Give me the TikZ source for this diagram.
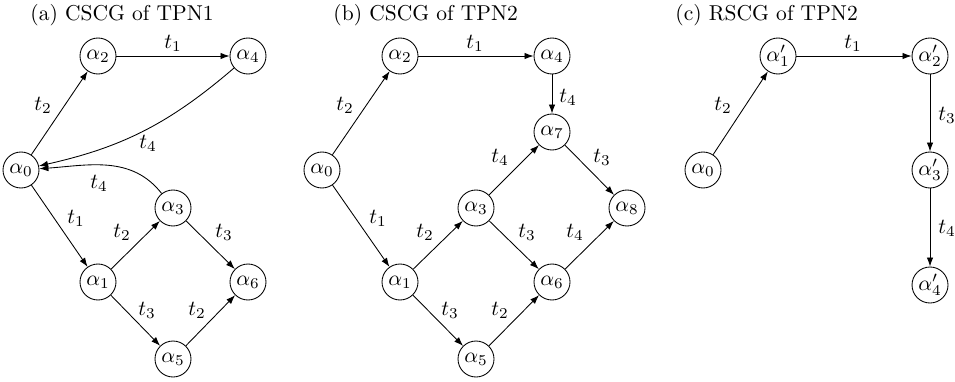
\documentclass[tikz,border=0pt]{standalone}
\usetikzlibrary{arrows.meta}
\begin{document}
\begin{tikzpicture}[x=0.01634cm,y=-0.01634cm,
  st/.style={circle,draw,minimum size=36*0.01634cm,inner sep=0pt},
  ar/.style={-{Latex[length=4.2pt,width=3pt]}},
  lb/.style={inner sep=0pt}]
\useasboundingbox (0,0) rectangle (955,381);
% titles
\node[anchor=west,lb] (ta) at (30,15) {(a) CSCG of TPN1};
\node[anchor=west,lb] (tb) at (333,15) {(b) CSCG of TPN2};
\node[anchor=west,lb] (tc) at (675,15) {(c) RSCG of TPN2};
% panel a
\node[st] (a2) at (98,56) {$\alpha_2$};
\node[st] (a4) at (248,56) {$\alpha_4$};
\node[st] (a0) at (21,170) {$\alpha_0$};
\node[st] (a3) at (173,208) {$\alpha_3$};
\node[st] (a1) at (98,282) {$\alpha_1$};
\node[st] (a6) at (248,282) {$\alpha_6$};
\node[st] (a5) at (173,359) {$\alpha_5$};
\draw[ar] (a2) -- (a4);
\draw[ar] (a0) -- (a2);
\draw[ar] (a4) to[bend left=14] (a0);
\draw[ar] (a3) to[out=128,in=4] (a0);
\draw[ar] (a0) -- (a1);
\draw[ar] (a1) -- (a3);
\draw[ar] (a3) -- (a6);
\draw[ar] (a1) -- (a5);
\draw[ar] (a5) -- (a6);
\node[lb] (la1) at (173,43) {$t_1$};
\node[lb] (la2) at (43,105) {$t_2$};
\node[lb] (la3) at (148,143) {$t_4$};
\node[lb] (la4) at (99,183) {$t_4$};
\node[lb] (la5) at (76,218) {$t_1$};
\node[lb] (la6) at (122,232) {$t_2$};
\node[lb] (la7) at (224,232) {$t_3$};
\node[lb] (la8) at (147,310) {$t_3$};
\node[lb] (la9) at (197,310) {$t_2$};
% panel b
\node[st] (b2) at (400,56) {$\alpha_2$};
\node[st] (b4) at (552,56) {$\alpha_4$};
\node[st] (b7) at (552,132) {$\alpha_7$};
\node[st] (b0) at (322,170) {$\alpha_0$};
\node[st] (b3) at (476,208) {$\alpha_3$};
\node[st] (b8) at (627,208) {$\alpha_8$};
\node[st] (b1) at (400,282) {$\alpha_1$};
\node[st] (b6) at (552,282) {$\alpha_6$};
\node[st] (b5) at (476,359) {$\alpha_5$};
\draw[ar] (b2) -- (b4);
\draw[ar] (b0) -- (b2);
\draw[ar] (b4) -- (b7);
\draw[ar] (b3) -- (b7);
\draw[ar] (b7) -- (b8);
\draw[ar] (b0) -- (b1);
\draw[ar] (b1) -- (b3);
\draw[ar] (b3) -- (b6);
\draw[ar] (b6) -- (b8);
\draw[ar] (b1) -- (b5);
\draw[ar] (b5) -- (b6);
\node[lb] (lb1) at (475,43) {$t_1$};
\node[lb] (lb2) at (345,105) {$t_2$};
\node[lb] (lb3) at (568,97) {$t_4$};
\node[lb] (lb4) at (500,157) {$t_4$};
\node[lb] (lb5) at (602,157) {$t_3$};
\node[lb] (lb6) at (378,218) {$t_1$};
\node[lb] (lb7) at (425,232) {$t_2$};
\node[lb] (lb8) at (527,232) {$t_3$};
\node[lb] (lb9) at (575,232) {$t_4$};
\node[lb] (lb10) at (450,310) {$t_3$};
\node[lb] (lb11) at (500,310) {$t_2$};
% panel c
\node[st] (c1) at (778,56) {$\alpha'_1$};
\node[st] (c2) at (930,56) {$\alpha'_2$};
\node[st] (c0) at (703,170) {$\alpha_0$};
\node[st] (c3) at (930,170) {$\alpha'_3$};
\node[st] (c4) at (930,285) {$\alpha'_4$};
\draw[ar] (c1) -- (c2);
\draw[ar] (c0) -- (c1);
\draw[ar] (c2) -- (c3);
\draw[ar] (c3) -- (c4);
\node[lb] (lc1) at (853,43) {$t_1$};
\node[lb] (lc2) at (723,105) {$t_2$};
\node[lb] (lc3) at (947,115) {$t_3$};
\node[lb] (lc4) at (947,228) {$t_4$};
\end{tikzpicture}
\end{document}
